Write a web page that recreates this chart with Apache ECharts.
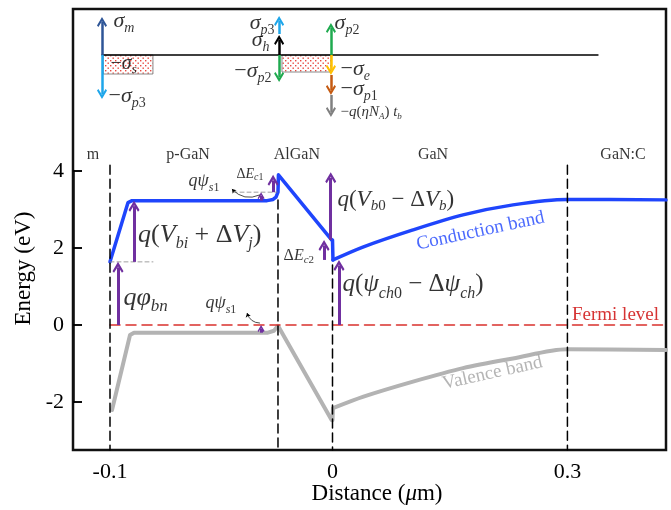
<!DOCTYPE html>
<html lang="en">
<head>
<meta charset="UTF-8">
<title>Band diagram</title>
<script src="https://cdn.jsdelivr.net/npm/echarts@6/dist/echarts.min.js"></script>
<style>html,body{margin:0;padding:0;background:#fff}</style>
</head>
<body>
<div id="main" style="width:671px;height:510px"></div>
<script>
// x in um, energy in eV (schematic)
var xTickLeft = [-0.1];
var xTickRight = [0, 0.3];
var yTicks = [-2, 0, 2, 4];

var cbLeftX = [-0.1, -0.0919, -0.0901, -0.0294, -0.0267, -0.0254, -0.0245, -0.0243, -0.0004];
var cbLeftE = [1.64, 3.18, 3.23, 3.23, 3.26, 3.32, 3.45, 3.90, 2.21];
var cbStepX = [0, 0.0006];
var cbStepE = [2.21, 1.69];
var cbRightX = [0.0006, 0.0396, 0.1028, 0.1667, 0.2305, 0.2995, 0.4259];
var cbRightE = [1.69, 2.03, 2.47, 2.86, 3.12, 3.26, 3.25];
var vbLeftX = [-0.0991, -0.091, -0.0892, -0.029, -0.0263, -0.0245, -0.0004];
var vbLeftE = [-2.21, -0.26, -0.20, -0.20, -0.15, -0.02, -2.47];
var vbStepX = [0, 0.0006];
var vbStepE = [-2.47, -2.16];
var vbRightX = [0.0006, 0.0396, 0.1028, 0.1667, 0.2305, 0.2995, 0.4259];
var vbRightE = [-2.16, -1.86, -1.47, -1.12, -0.87, -0.63, -0.65];

var fermiLeft = [-0.1, 0];
var fermiRight = [0, 0.4259];

// layer interfaces: x, top end of the dashed line
var interfacesLeft = [[-0.1, 4.15], [-0.0245, 3.25]];
var interfacesRight = [[0, 1.56], [0.3, 4.15]];

// purple energy arrows: x, from, tip
var purpleLeft = [[-0.0964, 0, 1.64], [-0.0892, 1.64, 3.23], [-0.0321, 3.23, 3.45],
                  [-0.0267, 3.45, 3.90], [-0.0038, 1.69, 2.21], [-0.0008, 2.21, 3.97],
                  [-0.0321, -0.20, 0]];
var purpleRight = [[0.0083, 0, 1.69]];

// thin guides: x1, x2, E
var guidesLeft = [[-0.1, -0.0807, 1.64], [-0.0447, -0.0249, 3.45]];
// curved pointers: x1, E1, x2, E2
var pointersLeft = [[-0.0326, 3.38, -0.0452, 3.53], [-0.0326, 0.05, -0.0384, 0.31]];

// charge sketch at the top (x in um, y in arbitrary units)
var chargeBaseline = [-0.1036, 0.1193];
var chargeBoxes = [[-0.1031, -0.0807, -1.9], [-0.0227, -0.0007, -1.7]];
var chargeArrows = [[-0.1036, 0, 3.8], [-0.1036, 0, -4.4], [-0.024, 0, 2.0], [-0.024, 2.1, 3.9],
                    [-0.024, 0, -2.7], [-0.0007, 0, 3.2], [-0.0007, 0, -2.0], [-0.0007, -2.0, -4.0],
                    [-0.0007, -4.0, -6.2]];
var chargeColors = ['#2e5597', '#1ea6ea', '#000000', '#1ea6ea', '#1faa4f', '#1faa4f', '#ffc000', '#c55a11', '#808080'];

var SERIF = 'Liberation Serif';
var BLUE = '#1f45fc', GRAY = '#b3b3b3', PURPLE = '#7030a0', RED = '#d9302c';
var chevron = 'path://M5,0 L10,8.5 L8.6,10 L5,4.2 L1.4,10 L0,8.5 Z';

var frameMinX = -0.11663, frameMaxX = 0.14989, frameMinY = -39.5, frameMaxY = 4.6;
var eMin = yTicks[0], eMax = yTicks[yTicks.length - 1], frameBottomE = -3.247;
var bottomTop = 171, bottomH = 231, frameH = 441, leftW = 259.5;
var ePx = bottomH / (eMax - eMin);
var qPx = frameH / (frameMaxY - frameMinY);
var xPxLeft = leftW / (0 - frameMinX);

function richSet(m, s) {
    var pb = Math.round(m * 0.15);
    return {
        i: {fontFamily: SERIF, fontStyle: 'italic', fontSize: m, color: '#000', verticalAlign: 'bottom', padding: [0, 0, pb, 0]},
        r: {fontFamily: SERIF, fontSize: m, color: '#000', verticalAlign: 'bottom', padding: [0, 0, pb, 0]},
        s: {fontFamily: SERIF, fontStyle: 'italic', fontSize: s, color: '#000', verticalAlign: 'bottom'},
        n: {fontFamily: SERIF, fontSize: s, color: '#000', verticalAlign: 'bottom'}
    };
}

var mathLeft = [
    {x: -0.0942, y: 0.65, t: '{i|qφ}{s|bn}', m: 26, s: 17},
    {x: -0.0876, y: 2.29, t: '{i|q}{r|(}{i|V}{s|bi}{r| + Δ}{i|V}{s|j}{r|)}', m: 26, s: 16},
    {x: -0.0649, y: 3.69, t: '{i|qψ}{s|s}{n|1}', m: 18, s: 12},
    {x: -0.0434, y: 3.90, t: '{r|Δ}{i|E}{s|c}{n|1}', m: 14, s: 10},
    {x: -0.0222, y: 1.77, t: '{r|Δ}{i|E}{s|c}{n|2}', m: 16, s: 11},
    {x: -0.0573, y: 0.52, t: '{i|qψ}{s|s}{n|1}', m: 18, s: 12}
];
var mathRight = [
    {x: 0.0057, y: 3.22, t: '{i|q}{r|(}{i|V}{s|b}{n|0}{r| − Δ}{i|V}{s|b}{r|)}', m: 23, s: 15},
    {x: 0.0121, y: 0.99, t: '{i|q}{r|(}{i|ψ}{s|ch}{n|0}{r| − Δ}{i|ψ}{s|ch}{r|)}', m: 25, s: 16}
];
var mathTop = [
    {x: -0.0987, y: 3.2, t: '{i|σ}{s|m}', m: 22, s: 14},
    {x: -0.1, y: -1.0, t: '{r|−}{i|σ}{s|s}', m: 20, s: 13},
    {x: -0.1009, y: -4.3, t: '{r|−}{i|σ}{s|p}{n|3}', m: 22, s: 14},
    {x: -0.0258, y: 3.0, t: '{i|σ}{s|p}{n|3}', m: 22, s: 14, right: true},
    {x: -0.0281, y: 1.3, t: '{i|σ}{s|h}', m: 22, s: 14, right: true},
    {x: -0.0272, y: -1.8, t: '{r|−}{i|σ}{s|p}{n|2}', m: 22, s: 14, right: true},
    {x: 0.0007, y: 3.0, t: '{i|σ}{s|p}{n|2}', m: 22, s: 14},
    {x: 0.0034, y: -1.6, t: '{r|−}{i|σ}{s|e}', m: 22, s: 14},
    {x: 0.0034, y: -3.6, t: '{r|−}{i|σ}{s|p}{n|1}', m: 22, s: 14},
    {x: 0.0034, y: -5.8, t: '{r|−}{i|q}{r|(}{i|ηN}{s|A}{r|)}{i| t}{s|b}', m: 15, s: 9}
];
var regionsLeft = [['m', -0.1076, 4.42], ['p-GaN', -0.0649, 4.42], ['AlGaN', -0.016, 4.42]];
var regionsRight = [['GaN', 0.1284, 4.42], ['GaN:C', 0.371, 4.42]];

function pattern() {
    var c = document.createElement('canvas');
    c.width = 5; c.height = 5;
    var g = c.getContext('2d');
    g.fillStyle = '#fff'; g.fillRect(0, 0, 5, 5);
    g.fillStyle = '#e8473f';
    g.fillRect(0, 0, 1.4, 1.4); g.fillRect(2.5, 2.5, 1.4, 1.4);
    return c;
}
var pat = pattern();

function zip(xs, ys) { return xs.map(function (x, k) { return [x, ys[k]]; }); }

function curve(xi, yi, data, color, width, dash, smooth) {
    return {type: 'line', xAxisIndex: xi, yAxisIndex: yi, data: data, symbol: 'none', clip: false, silent: true, z: 2,
        smooth: smooth || false,
        lineStyle: {color: color, width: width, type: dash || 'solid', join: 'round', cap: 'round'}};
}

function arrows(xi, yi, list, colors, head, width, px) {
    return {type: 'lines', coordinateSystem: 'cartesian2d', xAxisIndex: xi, yAxisIndex: yi, silent: true, z: 3,
        clip: false, symbol: ['none', chevron], symbolSize: head,
        lineStyle: {width: width, opacity: 1},
        data: list.map(function (a, k) {
            var dir = a[2] > a[1] ? 1 : -1;
            var end = a[2] - dir * (head / 2) / px;
            return {coords: [[a[0], a[1]], [a[0], end]], lineStyle: {color: colors[k] || colors[0]}};
        })};
}

function mathLabels(xi, yi, list) {
    return {type: 'scatter', xAxisIndex: xi, yAxisIndex: yi, symbolSize: 1, silent: true, z: 5, clip: false,
        itemStyle: {color: 'transparent'},
        data: list.map(function (a) {
            return {value: [a.x, a.y], label: {show: true, position: a.right ? 'left' : 'right', distance: 0,
                formatter: a.t, rich: richSet(a.m, a.s)}};
        })};
}

function textLabels(xi, yi, list) {
    return {type: 'scatter', xAxisIndex: xi, yAxisIndex: yi, symbolSize: 1, silent: true, z: 5, clip: false,
        itemStyle: {color: 'transparent'},
        label: {show: true, position: 'inside', formatter: function (p) { return p.data.name; },
            fontFamily: SERIF, fontSize: 16, color: '#000'},
        data: list.map(function (a) { return {name: a[0], value: [a[1], a[2]]}; })};
}

var myChart = echarts.init(document.getElementById('main'));

var series = [];
// top charge sketch
series.push(curve(0, 0, [[chargeBaseline[0], 0], [chargeBaseline[1], 0]], '#000', 1.5));
series.push({type: 'custom', xAxisIndex: 0, yAxisIndex: 0, data: chargeBoxes, silent: true, z: 1,
    renderItem: function (params, api) {
        var a = api.coord([api.value(0), 0]);
        var b = api.coord([api.value(1), api.value(2)]);
        return {type: 'rect', shape: {x: a[0], y: a[1], width: b[0] - a[0], height: b[1] - a[1]},
            style: {fill: {image: pat, repeat: 'repeat'}, stroke: '#8a8a8a', lineWidth: 1}};
    }});
series.push(arrows(0, 0, chargeArrows, chargeColors, 10, 2.5, qPx));
series.push(mathLabels(0, 0, mathTop));

// bands
series.push(curve(1, 1, zip(cbLeftX, cbLeftE), BLUE, 3.5));
series.push(curve(2, 2, zip(cbStepX, cbStepE), BLUE, 3.5));
series.push(curve(2, 2, zip(cbRightX, cbRightE), BLUE, 3.5, null, 0.3));
series.push(curve(1, 1, zip(vbLeftX, vbLeftE), GRAY, 4));
series.push(curve(2, 2, zip(vbStepX, vbStepE), GRAY, 4));
series.push(curve(2, 2, zip(vbRightX, vbRightE), GRAY, 4, null, 0.3));
series.push(curve(1, 1, [[fermiLeft[0], 0], [fermiLeft[1], 0]], RED, 1.5, [10, 6]));
series.push(curve(2, 2, [[fermiRight[0], 0], [fermiRight[1], 0]], RED, 1.5, [10, 6]));
interfacesLeft.forEach(function (d) { series.push(curve(1, 1, [[d[0], d[1]], [d[0], frameBottomE]], '#000', 1.5, [9, 5])); });
interfacesRight.forEach(function (d) { series.push(curve(2, 2, [[d[0], d[1]], [d[0], frameBottomE]], '#000', 1.5, [9, 5])); });
guidesLeft.forEach(function (g) { series.push(curve(1, 1, [[g[0], g[2]], [g[1], g[2]]], '#888', 0.8, [4, 3])); });

// inward tick marks on the energy axis
series.push({type: 'lines', coordinateSystem: 'cartesian2d', xAxisIndex: 1, yAxisIndex: 1, silent: true, z: 4,
    clip: false, lineStyle: {color: '#000', width: 1.5, opacity: 1},
    data: yTicks.map(function (v) { return {coords: [[frameMinX, v], [frameMinX + 9 / xPxLeft, v]]}; })});

var bigLeft = purpleLeft.filter(function (a) { return Math.abs(a[2] - a[1]) > 0.3; });
var smallLeft = purpleLeft.filter(function (a) { return Math.abs(a[2] - a[1]) <= 0.3; });
series.push(arrows(1, 1, bigLeft, [PURPLE], 11, 3, ePx));
series.push(arrows(1, 1, smallLeft, [PURPLE], 7, 3, ePx));
series.push(arrows(2, 2, purpleRight, [PURPLE], 11, 3, ePx));
series.push({type: 'lines', coordinateSystem: 'cartesian2d', xAxisIndex: 1, yAxisIndex: 1, silent: true, z: 4,
    clip: false, symbol: ['none', 'arrow'], symbolSize: 4,
    lineStyle: {color: '#000', width: 0.7, opacity: 1, curveness: 0.35},
    data: pointersLeft.map(function (p) { return {coords: [[p[0], p[1]], [p[2], p[3]]]}; })});

series.push(mathLabels(1, 1, mathLeft));
series.push(mathLabels(2, 2, mathRight));
series.push(textLabels(1, 1, regionsLeft));
series.push(textLabels(2, 2, regionsRight));
series.push({type: 'scatter', xAxisIndex: 2, yAxisIndex: 2, symbolSize: 1, silent: true, z: 5, clip: false,
    itemStyle: {color: 'transparent'},
    data: [
        {value: [0.189, 2.44], label: {show: true, position: 'inside', rotate: 12, formatter: 'Conduction band', color: BLUE, fontFamily: SERIF, fontSize: 19}},
        {value: [0.2043, -1.25], label: {show: true, position: 'inside', rotate: 12.5, formatter: 'Valence band', color: '#a3a3a3', fontFamily: SERIF, fontSize: 19}},
        {value: [0.3052, 0.26], label: {show: true, position: 'right', distance: 0, formatter: 'Fermi level', color: '#cc0000', fontFamily: SERIF, fontSize: 19}}
    ]});

var tickLabel = {fontFamily: SERIF, fontSize: 22, color: '#000'};
var noLine = {show: false, onZero: false};

myChart.setOption({
    animation: false,
    backgroundColor: '#fff',
    grid: [
        {left: 73, top: 9, width: 593, height: frameH, show: true, borderColor: '#111', borderWidth: 2.5, backgroundColor: 'transparent'},
        {left: 73, top: bottomTop, width: leftW, height: bottomH},
        {left: 332.5, top: bottomTop, width: 333.5, height: bottomH}
    ],
    xAxis: [
        {gridIndex: 0, type: 'value', min: frameMinX, max: frameMaxX, axisLine: noLine, axisTick: {show: false},
            axisLabel: {show: false}, splitLine: {show: false},
            name: '{n|Distance (}{m|μ}{n|m)}', nameLocation: 'middle', nameGap: 32,
            nameTextStyle: {padding: [0, 0, 0, 15], rich: {
                n: {fontFamily: SERIF, fontSize: 23, color: '#000'},
                m: {fontFamily: SERIF, fontSize: 23, fontStyle: 'italic', color: '#000'}}}},
        {gridIndex: 1, type: 'value', min: frameMinX, max: 0, axisLine: noLine, axisTick: {show: false}, splitLine: {show: false},
            axisLabel: Object.assign({customValues: xTickLeft, margin: 59, showMinLabel: true, showMaxLabel: true}, tickLabel)},
        {gridIndex: 2, type: 'value', min: 0, max: 0.4259, axisLine: noLine, axisTick: {show: false}, splitLine: {show: false},
            axisLabel: Object.assign({customValues: xTickRight, margin: 59, showMinLabel: true, showMaxLabel: true}, tickLabel)}
    ],
    yAxis: [
        {gridIndex: 0, type: 'value', min: frameMinY, max: frameMaxY, show: false},
        {gridIndex: 1, type: 'value', min: eMin, max: eMax, interval: 2, splitLine: {show: false},
            axisLine: {show: true, onZero: false, lineStyle: {color: '#111', width: 2.5}},
            axisTick: {show: true, inside: true, length: 9, lineStyle: {color: '#000', width: 1.5}},
            axisLabel: Object.assign({margin: 9, showMinLabel: true, showMaxLabel: true}, tickLabel),
            name: 'Energy (eV)', nameLocation: 'middle', nameGap: 38,
            nameTextStyle: {fontFamily: SERIF, fontSize: 23, color: '#000', padding: [0, 0, 0, 36]}},
        {gridIndex: 2, type: 'value', min: eMin, max: eMax, show: false}
    ],
    series: series
});
</script>
</body>
</html>
